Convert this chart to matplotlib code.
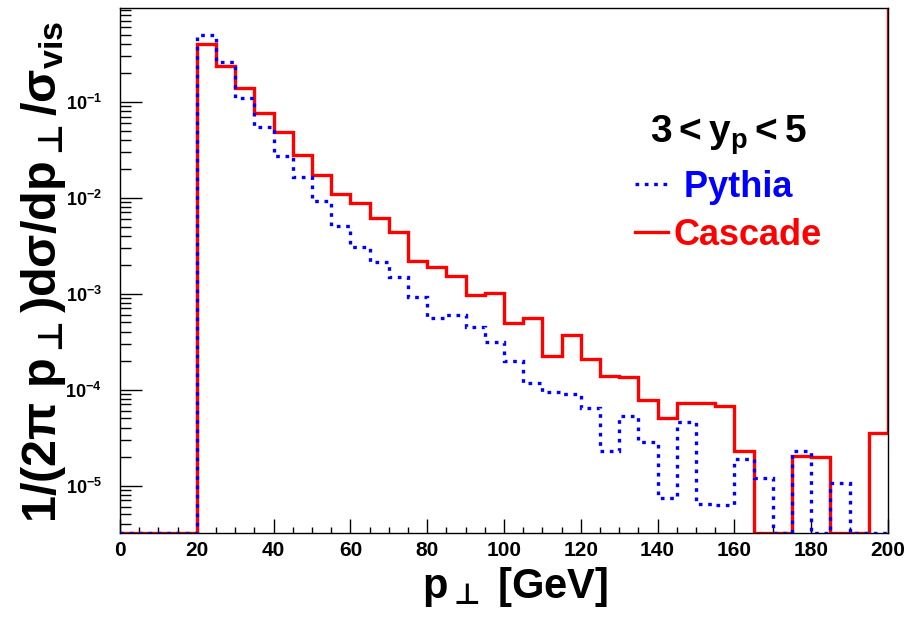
import numpy as np
import matplotlib
matplotlib.use("Agg")
import matplotlib.pyplot as plt
from matplotlib.ticker import MultipleLocator, LogLocator, LogFormatterMathtext, NullFormatter

plt.rcParams['font.family'] = ['Liberation Sans', 'DejaVu Sans']
plt.rcParams['font.weight'] = 'bold'
plt.rcParams['mathtext.fontset'] = 'custom'
for k in ('rm', 'it', 'bf'):
    plt.rcParams['mathtext.' + k] = 'Liberation Sans:bold'
plt.rcParams['mathtext.sf'] = 'DejaVu Sans'      # for the up tack sign
plt.rcParams['mathtext.fallback'] = 'stixsans'

# 5 GeV bins from 0 to 200, last entry is the overflow bin
edges = np.arange(0, 206, 5)
pythia = [0, 0, 0, 0,
          0.496, 0.256, 0.109, 0.0545, 0.0272, 0.0164, 0.00925, 0.00507, 0.00306, 0.00214,
          0.00149, 9.25e-4, 5.58e-4, 6.00e-4, 4.50e-4, 3.14e-4, 1.99e-4, 1.175e-4, 9.46e-5, 9.02e-5,
          6.44e-5, 2.30e-5, 5.32e-5, 2.85e-5, 7.45e-6, 4.60e-5, 6.45e-6, 6.30e-6, 1.90e-5, 1.20e-5,
          0, 2.30e-5, 0, 1.07e-5, 0, 0,
          0]
cascade = [0, 0, 0, 0,
           0.399, 0.236, 0.139, 0.0762, 0.0483, 0.0279, 0.0172, 0.01093, 0.00881, 0.00615,
           0.00440, 0.00219, 0.00190, 0.00153, 9.69e-4, 1.017e-3, 4.95e-4, 5.58e-4, 2.24e-4, 3.72e-4,
           2.09e-4, 1.39e-4, 1.36e-4, 7.82e-5, 5.07e-5, 7.27e-5, 7.27e-5, 6.76e-5, 2.30e-5, 0,
           0, 2.04e-5, 1.99e-5, 0, 0, 3.54e-5,
           1.0]

ymin, ymax = 3.2e-6, 0.946

fig = plt.figure(figsize=(9.1, 6.22), dpi=100)
ax = fig.add_axes([120/910, 1-533/622, 768/910, 525/622])

# empty bins are drawn on the bottom of the frame, like ROOT does
red = np.where(np.array(cascade) > 0, cascade, ymin)
blue = np.where(np.array(pythia) > 0, pythia, ymin)
ax.stairs(red, edges, baseline=None, color='#ff0000', lw=2.4, label='Cascade', zorder=2)
ax.stairs(blue, edges, baseline=None, color='#0000ff', lw=2.4, ls=(0, (1.1, 1.7)),
          label=' Pythia', zorder=3)

ax.set_yscale('log')
ax.set_xlim(0, 200)
ax.set_ylim(ymin, ymax)

ax.xaxis.set_major_locator(MultipleLocator(20))
ax.xaxis.set_minor_locator(MultipleLocator(5))
ax.yaxis.set_major_locator(LogLocator(base=10, numticks=20))
ax.yaxis.set_minor_locator(LogLocator(base=10, subs=np.arange(2, 10), numticks=20))
ax.yaxis.set_major_formatter(LogFormatterMathtext())
ax.yaxis.set_minor_formatter(NullFormatter())
ax.tick_params(axis='x', which='major', direction='in', length=10, width=1, pad=6, labelsize=15)
ax.tick_params(axis='x', which='minor', direction='in', length=4.5, width=1)
ax.tick_params(axis='y', which='major', direction='in', length=16, width=1, pad=13, labelsize=13)
ax.tick_params(axis='y', which='minor', direction='in', length=8, width=1)
for s in ax.spines.values():
    s.set_linewidth(1.0)

fig.text(515/910, 1-598/622, r'$\mathbf{p}_{\mathsf{\bot}}$ [GeV]', fontsize=30,
         ha='center', va='baseline')
fig.text(56/910, 1-272/622,
         r'$\mathbf{1/(2\pi\ p}_{\mathsf{\bot}}\mathbf{)d\sigma/dp}_{\mathsf{\bot}}\mathbf{/\sigma_{vis}}$',
         fontsize=35, rotation=90, rotation_mode='anchor', ha='center', va='baseline')

handles, labels = ax.get_legend_handles_labels()
leg = ax.legend(handles[::-1], labels[::-1], title=r'$\mathbf{3 < y_{p} < 5}$',
                loc='upper left', bbox_to_anchor=(635/910, 1-113/622),
                bbox_transform=fig.transFigure, frameon=False, fontsize=26,
                title_fontsize=28, labelcolor='linecolor', handlelength=0.92,
                handletextpad=0.15, labelspacing=0.36, borderpad=0, borderaxespad=0)

fig.savefig('out.png', dpi=100)
